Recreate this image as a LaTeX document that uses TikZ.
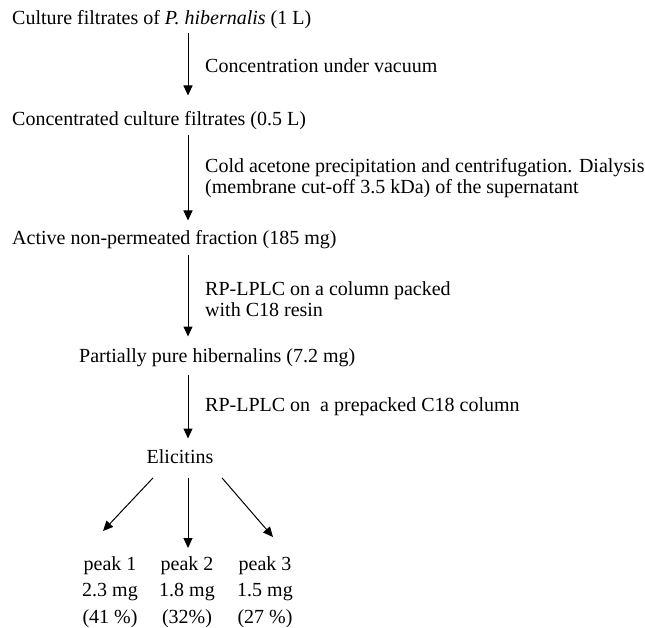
\documentclass[tikz,border=0pt]{standalone}
\usepackage{fontspec}
\setmainfont{Liberation Serif}
\usetikzlibrary{arrows.meta}
\begin{document}
\begin{tikzpicture}[x=1pt,y=-1pt,
  stage/.style={anchor=mid west,inner sep=0pt,text height=15pt,text depth=5pt,font=\fontsize{20}{26}\selectfont},
  note/.style={anchor=mid west,inner sep=0pt,align=left,font=\fontsize{20}{21.5}\selectfont},
  peakcol/.style={anchor=north,inner sep=0pt,align=center,font=\fontsize{20}{26.5}\selectfont},
  flow/.style={line width=1pt,-{Triangle[length=10pt,width=9pt]}}]
\useasboundingbox (0,0) rectangle (645,627);
\coordinate (ax) at (188,0);
\node[stage] (n1) at (12,22) {Culture filtrates of \textit{P. hibernalis} (1 L)};
\node[stage] (n2) at (12,123) {Concentrated culture filtrates (0.5 L)};
\node[stage] (n3) at (12,242) {Active non-permeated fraction (185 mg)};
\node[stage] (n4) at (79,360) {Partially pure hibernalins (7.2 mg)};
\node[stage,anchor=mid] (el) at (180,461) {Elicitins};
\node[note] (l1) at (205,70) {Concentration under vacuum};
\node[note,anchor=north west] (l2) at (205,158) {Cold acetone precipitation and centrifugation. Dialysis\\(membrane cut-off 3.5 kDa) of the supernatant};
\node[note,anchor=north west] (l3) at (205,281) {RP-LPLC on a column packed\\with C18 resin};
\node[note] (l4) at (205,409) {RP-LPLC on\ \ a prepacked C18 column};
\node[peakcol] (p1) at (110,556) {peak 1\\2.3 mg\\(41 \%)};
\node[peakcol] (p2) at (187,556) {peak 2\\1.8 mg\\(32\%)};
\node[peakcol] (p3) at (265,556) {peak 3\\1.5 mg\\(27 \%)};
\draw[flow,shorten <=3.4pt,shorten >=14.6pt] (n1.south -| ax) -- (n2.north -| ax);
\draw[flow,shorten <=4.4pt,shorten >=8.6pt] (n2.south -| ax) -- (n3.north -| ax);
\draw[flow,shorten <=5.4pt,shorten >=10.6pt] (n3.south -| ax) -- (n4.north -| ax);
\draw[flow,shorten <=7.4pt,shorten >=9.6pt] (n4.south -| ax) -- (el.north -| ax);
\draw[flow] ([xshift=-27pt,yshift=-9.4pt]el.south) -- ([xshift=-7pt,yshift=25pt]p1.north);
\draw[flow] ([xshift=8pt,yshift=-9.4pt]el.south) -- ([xshift=1pt,yshift=8pt]p2.north);
\draw[flow] ([xshift=42pt,yshift=-9.4pt]el.south) -- ([xshift=8pt,yshift=19pt]p3.north);
\end{tikzpicture}
\end{document}
